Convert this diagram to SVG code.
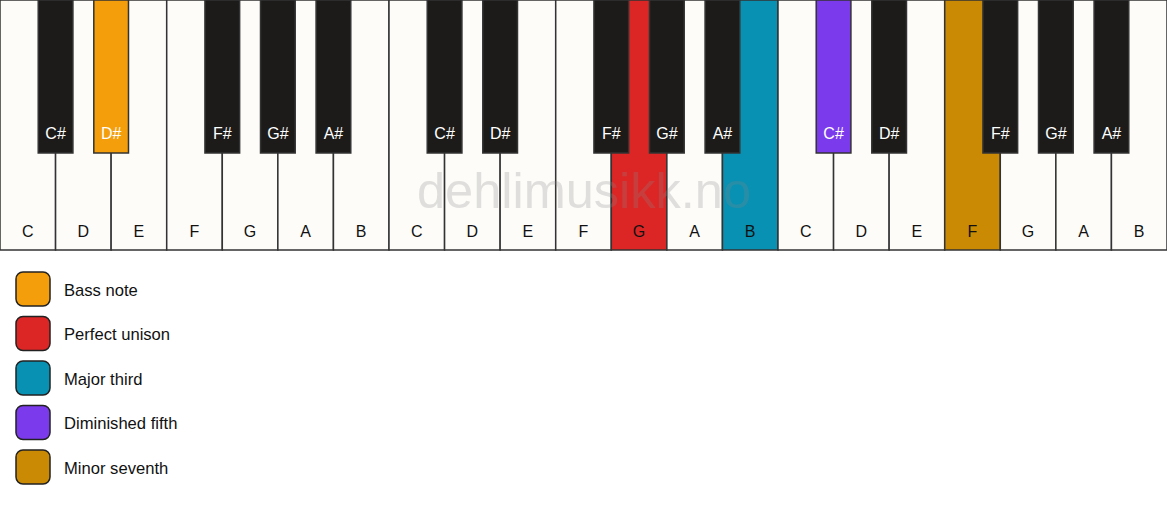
<svg xmlns="http://www.w3.org/2000/svg" width="1167" height="506" viewBox="0 0 1167 506">
<style>
.w{fill:#fdfcf9;stroke:#333;stroke-width:1.5}
.b{fill:#1c1b19;stroke:#333;stroke-width:1.5}
.t{font-family:"Liberation Sans",Arial,sans-serif;font-size:16px;text-anchor:middle}
.tw{fill:#111}
.tb{fill:#fff}
.sw{stroke:#222;stroke-width:1.5}
.lg{font-family:"Liberation Sans",Arial,sans-serif;font-size:16.6px;fill:#111}
.wm{font-family:"Liberation Sans",Arial,sans-serif;font-size:50.5px;fill:#888;opacity:0.25;text-anchor:middle}
</style>
<rect width="1167" height="506" fill="#ffffff"/>
<g id="white-keys">
<g id="w0"><rect class="w" x="0" y="0" width="55.57" height="250"/><text class="t tw" x="27.79" y="237">C</text></g>
<g id="w1"><rect class="w" x="55.57" y="0" width="55.57" height="250"/><text class="t tw" x="83.36" y="237">D</text></g>
<g id="w2"><rect class="w" x="111.14" y="0" width="55.57" height="250"/><text class="t tw" x="138.93" y="237">E</text></g>
<g id="w3"><rect class="w" x="166.71" y="0" width="55.57" height="250"/><text class="t tw" x="194.5" y="237">F</text></g>
<g id="w4"><rect class="w" x="222.29" y="0" width="55.57" height="250"/><text class="t tw" x="250.07" y="237">G</text></g>
<g id="w5"><rect class="w" x="277.86" y="0" width="55.57" height="250"/><text class="t tw" x="305.64" y="237">A</text></g>
<g id="w6"><rect class="w" x="333.43" y="0" width="55.57" height="250"/><text class="t tw" x="361.21" y="237">B</text></g>
<g id="w7"><rect class="w" x="389" y="0" width="55.57" height="250"/><text class="t tw" x="416.79" y="237">C</text></g>
<g id="w8"><rect class="w" x="444.57" y="0" width="55.57" height="250"/><text class="t tw" x="472.36" y="237">D</text></g>
<g id="w9"><rect class="w" x="500.14" y="0" width="55.57" height="250"/><text class="t tw" x="527.93" y="237">E</text></g>
<g id="w10"><rect class="w" x="555.71" y="0" width="55.57" height="250"/><text class="t tw" x="583.5" y="237">F</text></g>
<g id="w11"><rect class="w" x="611.29" y="0" width="55.57" height="250" style="fill:#dc2626"/><text class="t tw" x="639.07" y="237">G</text></g>
<g id="w12"><rect class="w" x="666.86" y="0" width="55.57" height="250"/><text class="t tw" x="694.64" y="237">A</text></g>
<g id="w13"><rect class="w" x="722.43" y="0" width="55.57" height="250" style="fill:#0891b2"/><text class="t tw" x="750.21" y="237">B</text></g>
<g id="w14"><rect class="w" x="778" y="0" width="55.57" height="250"/><text class="t tw" x="805.79" y="237">C</text></g>
<g id="w15"><rect class="w" x="833.57" y="0" width="55.57" height="250"/><text class="t tw" x="861.36" y="237">D</text></g>
<g id="w16"><rect class="w" x="889.14" y="0" width="55.57" height="250"/><text class="t tw" x="916.93" y="237">E</text></g>
<g id="w17"><rect class="w" x="944.71" y="0" width="55.57" height="250" style="fill:#ca8a04"/><text class="t tw" x="972.5" y="237">F</text></g>
<g id="w18"><rect class="w" x="1000.29" y="0" width="55.57" height="250"/><text class="t tw" x="1028.07" y="237">G</text></g>
<g id="w19"><rect class="w" x="1055.86" y="0" width="55.57" height="250"/><text class="t tw" x="1083.64" y="237">A</text></g>
<g id="w20"><rect class="w" x="1111.43" y="0" width="55.57" height="250"/><text class="t tw" x="1139.21" y="237">B</text></g>
</g>
<g id="black-keys">
<g id="b1"><rect class="b" x="38.22" y="0" width="34.7" height="153"/><text class="t tb" x="55.57" y="139">C#</text></g>
<g id="b2"><rect class="b" x="93.79" y="0" width="34.7" height="153" style="fill:#f59e0b"/><text class="t tb" x="111.14" y="139">D#</text></g>
<g id="b4"><rect class="b" x="204.94" y="0" width="34.7" height="153"/><text class="t tb" x="222.29" y="139">F#</text></g>
<g id="b5"><rect class="b" x="260.51" y="0" width="34.7" height="153"/><text class="t tb" x="277.86" y="139">G#</text></g>
<g id="b6"><rect class="b" x="316.08" y="0" width="34.7" height="153"/><text class="t tb" x="333.43" y="139">A#</text></g>
<g id="b8"><rect class="b" x="427.22" y="0" width="34.7" height="153"/><text class="t tb" x="444.57" y="139">C#</text></g>
<g id="b9"><rect class="b" x="482.79" y="0" width="34.7" height="153"/><text class="t tb" x="500.14" y="139">D#</text></g>
<g id="b11"><rect class="b" x="593.94" y="0" width="34.7" height="153"/><text class="t tb" x="611.29" y="139">F#</text></g>
<g id="b12"><rect class="b" x="649.51" y="0" width="34.7" height="153"/><text class="t tb" x="666.86" y="139">G#</text></g>
<g id="b13"><rect class="b" x="705.08" y="0" width="34.7" height="153"/><text class="t tb" x="722.43" y="139">A#</text></g>
<g id="b15"><rect class="b" x="816.22" y="0" width="34.7" height="153" style="fill:#7c3aed"/><text class="t tb" x="833.57" y="139">C#</text></g>
<g id="b16"><rect class="b" x="871.79" y="0" width="34.7" height="153"/><text class="t tb" x="889.14" y="139">D#</text></g>
<g id="b18"><rect class="b" x="982.94" y="0" width="34.7" height="153"/><text class="t tb" x="1000.29" y="139">F#</text></g>
<g id="b19"><rect class="b" x="1038.51" y="0" width="34.7" height="153"/><text class="t tb" x="1055.86" y="139">G#</text></g>
<g id="b20"><rect class="b" x="1094.08" y="0" width="34.7" height="153"/><text class="t tb" x="1111.43" y="139">A#</text></g>
</g>
<text id="watermark" class="wm" x="584" y="208">dehlimusikk.no</text>
<g id="legend">
<g id="lg-bass"><rect class="sw" x="16" y="272" width="34" height="34" rx="7" fill="#f59e0b"/><text class="lg" x="64" y="295.5">Bass note</text></g>
<g id="lg-unison"><rect class="sw" x="16" y="316.5" width="34" height="34" rx="7" fill="#dc2626"/><text class="lg" x="64" y="340">Perfect unison</text></g>
<g id="lg-third"><rect class="sw" x="16" y="361" width="34" height="34" rx="7" fill="#0891b2"/><text class="lg" x="64" y="384.5">Major third</text></g>
<g id="lg-fifth"><rect class="sw" x="16" y="405.5" width="34" height="34" rx="7" fill="#7c3aed"/><text class="lg" x="64" y="429">Diminished fifth</text></g>
<g id="lg-seventh"><rect class="sw" x="16" y="450" width="34" height="34" rx="7" fill="#ca8a04"/><text class="lg" x="64" y="473.5">Minor seventh</text></g>
</g>
</svg>
